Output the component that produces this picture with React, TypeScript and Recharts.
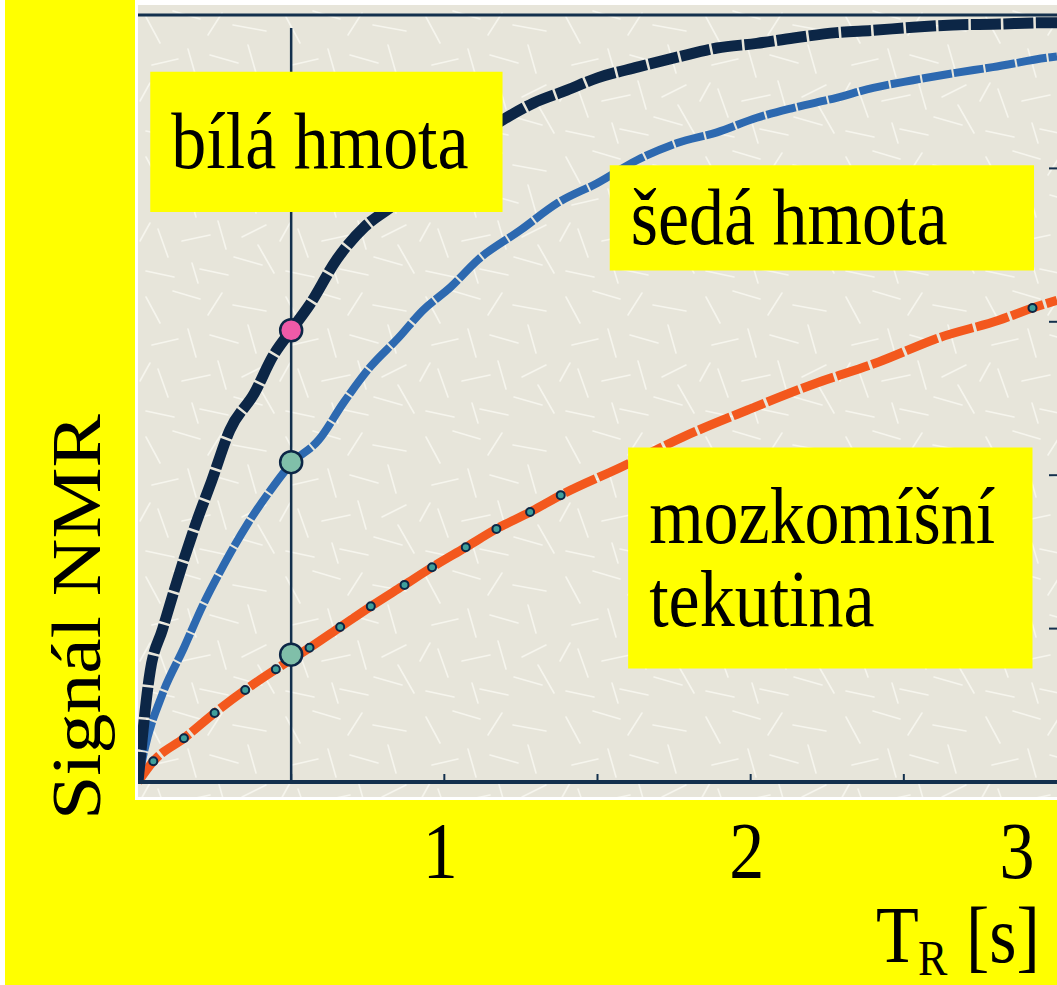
import React from 'react';
import {
  ComposedChart,
  Line,
  XAxis,
  YAxis,
  ReferenceLine,
  ReferenceArea,
  ReferenceDot,
} from 'recharts';

// ---------------- data ----------------
const WM_TR = [0, 0.04, 0.08, 0.14, 0.19, 0.24, 0.3, 0.38, 0.44, 0.5, 0.56, 0.65, 0.74, 0.82, 1.19, 1.29, 1.4, 1.5, 1.63, 1.76, 1.89, 2.02, 2.14, 2.28, 2.4, 2.53, 2.66, 2.79, 2.98, 3.0];
const WM_SIG = [0, 0.145, 0.199, 0.278, 0.338, 0.392, 0.459, 0.507, 0.555, 0.589, 0.622, 0.682, 0.724, 0.748, 0.863, 0.885, 0.902, 0.918, 0.932, 0.945, 0.957, 0.963, 0.97, 0.977, 0.98, 0.984, 0.987, 0.988, 0.99, 0.99];

const GM_TR = [0, 0.02, 0.08, 0.15, 0.21, 0.28, 0.36, 0.43, 0.5, 0.59, 0.67, 0.76, 0.85, 0.93, 1.02, 1.11, 1.25, 1.37, 1.5, 1.63, 1.76, 1.89, 2.02, 2.14, 2.28, 2.4, 2.53, 2.66, 2.79, 2.98, 3.0];
const GM_SIG = [0, 0.04, 0.115, 0.175, 0.229, 0.283, 0.338, 0.379, 0.415, 0.446, 0.494, 0.542, 0.579, 0.615, 0.645, 0.681, 0.72, 0.755, 0.781, 0.811, 0.833, 0.847, 0.866, 0.879, 0.892, 0.905, 0.915, 0.924, 0.932, 0.945, 0.946];

const CSF_TR = [0, 0.05, 0.15, 0.25, 0.35, 0.45, 0.56, 0.66, 0.76, 0.87, 0.96, 1.07, 1.17, 1.28, 1.38, 1.58, 1.78, 1.99, 2.2, 2.42, 2.62, 2.81, 2.92, 3.0];
const CSF_SIG = [0, 0.027, 0.057, 0.09, 0.12, 0.147, 0.175, 0.202, 0.229, 0.257, 0.28, 0.306, 0.33, 0.352, 0.374, 0.411, 0.45, 0.485, 0.518, 0.548, 0.58, 0.602, 0.618, 0.628];
const CSF_MARKER_IDX = [1, 2, 3, 4, 5, 6, 7, 8, 9, 10, 11, 12, 13, 14, 22];

const PROBE_TR = 0.5;
const PROBE_SIG = [0.589, 0.417, 0.166];

const X_TICKS = [0.5, 1, 1.5, 2, 2.5, 3];
const X_LABELS = [1, 2, 3];
const Y_TICKS = [0.2, 0.4, 0.6, 0.8];

const Y_TITLE = 'Signál NMR';
const X_TITLE_MAIN = 'T';
const X_TITLE_SUB = 'R';
const X_TITLE_UNIT = '[s]';

const BOX_LINES = [['bílá hmota'], ['šedá hmota'], ['mozkomíšní', 'tekutina']];
const BOX_TR = [[0.04, 1.19], [1.54, 2.925], [1.6, 2.92]];
const BOX_SIG = [[0.743, 0.926], [0.667, 0.804], [0.148, 0.436]];

// ---------------- style ----------------
const W = 1057;
const H = 985;
const FONT = '"Liberation Serif", "Times New Roman", serif';
const VSTRETCH = 1.14;
const NAVY = '#0c2646';
const AXIS = '#13304d';
const BLUE = '#2d69b0';
const ORANGE = '#f3581d';
const PINK = '#ee5aa8';
const TEAL = '#80bfa9';
const YELLOW = '#ffff00';
const PANEL = '#e7e5da';
const TS = 70;

const TILE_SVG =
  "<svg xmlns='http://www.w3.org/2000/svg' width='140' height='140'>" +
  "<g stroke='#fbfaf4' stroke-width='1.6' stroke-linecap='round' opacity='0.75' fill='none'>" +
  "<path d='M8 12 L22 38 M35 6 L62 14 M70 30 L84 8 M95 20 L128 26 M110 40 L118 68 M14 60 L40 54 M50 44 L58 72 M72 50 L100 58 M128 80 L104 92 M20 84 L30 112 M44 96 L72 90 M80 76 L88 104 M96 112 L124 120 M8 126 L36 132 M54 118 L60 138 M120 100 L136 128 M2 96 L12 78 M62 124 L90 130'/>" +
  '</g></svg>';
const TEXTURE = `url("data:image/svg+xml;utf8,${encodeURIComponent(TILE_SVG)}")`;

const rows = (xs: number[], ys: number[]) => xs.map((t, i) => ({ tr: t, sig: ys[i], idx: i }));
const wmRows = rows(WM_TR, WM_SIG);
const gmRows = rows(GM_TR, GM_SIG);
const csfRows = rows(CSF_TR, CSF_SIG);
const PROBE_FILLS = [PINK, TEAL, TEAL];

function SText({ x, y, size = TS, anchor = 'start', children }: any) {
  return (
    <text
      transform={`translate(${x},${y}) scale(1,${VSTRETCH})`}
      fontFamily={FONT}
      fontSize={size}
      fill="#000"
      textAnchor={anchor}
    >
      {children}
    </text>
  );
}

// bottom axis tick: short inward mark + large label for whole seconds
function BottomTick(props: any) {
  const { x, y, payload } = props;
  const v = payload?.value;
  const isLabel = X_LABELS.includes(v);
  const cx = Math.min(x - 4, W - 40);
  return (
    <g>
      {v < 3 && <line x1={x} y1={y} x2={x} y2={y - 8} stroke={AXIS} strokeWidth={2} />}
      {isLabel && (
        <SText x={cx} y={y + 96} anchor="middle">
          {v}
        </SText>
      )}
    </g>
  );
}

// top axis tick: short inward mark only
function TopTick(props: any) {
  const { x, y, payload } = props;
  if (payload?.value >= 3) return <g />;
  return <line x1={x} y1={y} x2={x} y2={y + 6} stroke={AXIS} strokeWidth={2} />;
}

const renderXTitle = (p: any) => {
  const vb = p.viewBox || p;
  const right = vb.x + vb.width;
  const base = vb.y + 180;
  return (
    <g>
      <SText x={right - 181} y={base}>{X_TITLE_MAIN}</SText>
      <SText x={right - 139} y={base + 13} size={44}>{X_TITLE_SUB}</SText>
      <SText x={right - 91} y={base}>{X_TITLE_UNIT}</SText>
    </g>
  );
};

const renderYTitle = (p: any) => {
  const vb = p.viewBox || p;
  const by = vb.y + vb.height + 38;
  return (
    <text
      transform={`translate(100,${by}) scale(1,${VSTRETCH}) rotate(-90)`}
      fontFamily={FONT}
      fontSize={TS}
      fill="#000"
      textAnchor="start"
    >
      {Y_TITLE}
    </text>
  );
};

const makeBoxLabel = (lines: string[]) => (p: any) => {
  const vb = p.viewBox || p;
  const cy = vb.y + vb.height / 2;
  const n = lines.length;
  return (
    <g>
      {lines.map((l, i) => (
        <SText key={i} x={vb.x + 21} y={cy + 26 + (i - (n - 1) / 2) * 83}>
          {l}
        </SText>
      ))}
    </g>
  );
};

const csfDot = (p: any) => {
  const marked = CSF_MARKER_IDX.includes(p.payload?.idx);
  if (!marked || p.cx == null) return <g key={`cd${p.index}`} />;
  return (
    <circle
      key={`cd${p.index}`}
      cx={p.cx}
      cy={p.cy}
      r={4}
      fill="#3f9f9b"
      stroke={NAVY}
      strokeWidth={2}
    />
  );
};

export default function App() {
  return (
    <div
      style={{
        position: 'absolute',
        left: 0,
        top: 0,
        width: W,
        height: H,
        background: YELLOW,
        overflow: 'hidden',
      }}
    >
      <div style={{ position: 'absolute', left: 0, top: 0, width: 5, height: H, background: '#fff' }} />
      <div style={{ position: 'absolute', left: 135, top: 0, width: W - 135, height: 800, background: '#fff' }} />
      <div
        style={{
          position: 'absolute',
          left: 138,
          top: 5,
          width: W - 138,
          height: 792,
          backgroundColor: PANEL,
          backgroundImage: TEXTURE,
        }}
      />
      <div style={{ position: 'absolute', left: 0, top: 0 }}>
        <ComposedChart width={W} height={H} margin={{ top: 14, right: 0, bottom: 0, left: 138 }}>
          <XAxis
            xAxisId="x"
            type="number"
            dataKey="tr"
            domain={[0, 3]}
            ticks={X_TICKS}
            interval={0}
            orientation="bottom"
            height={203}
            axisLine={{ stroke: AXIS, strokeWidth: 4 }}
            tickLine={false}
            tickSize={0}
            tickMargin={0}
            tick={<BottomTick />}
            label={renderXTitle}
            allowDataOverflow
          />
          <XAxis
            xAxisId="top"
            type="number"
            dataKey="tr"
            domain={[0, 3]}
            ticks={X_TICKS}
            interval={0}
            orientation="top"
            height={1}
            axisLine={{ stroke: AXIS, strokeWidth: 3 }}
            tickLine={false}
            tickSize={0}
            tickMargin={0}
            tick={<TopTick />}
          />
          <YAxis
            yAxisId="y"
            type="number"
            domain={[0, 1]}
            ticks={Y_TICKS}
            interval={0}
            orientation="right"
            mirror
            width={1}
            axisLine={false}
            tickLine={{ stroke: AXIS, strokeWidth: 2 }}
            tickSize={8}
            tickFormatter={() => ''}
            label={renderYTitle}
          />

          <ReferenceLine
            xAxisId="x"
            yAxisId="y"
            segment={[{ x: PROBE_TR, y: 0.983 }, { x: PROBE_TR, y: 0 }]}
            stroke={AXIS}
            strokeWidth={2.5}
          />

          <Line
            xAxisId="x"
            yAxisId="y"
            data={csfRows}
            dataKey="sig"
            type="monotone"
            stroke={ORANGE}
            strokeWidth={9}
            strokeDasharray="34 3"
            dot={csfDot}
            activeDot={false}
            isAnimationActive={false}
          />
          <Line
            xAxisId="x"
            yAxisId="y"
            data={gmRows}
            dataKey="sig"
            type="monotone"
            stroke={BLUE}
            strokeWidth={8}
            strokeDasharray="30 2"
            dot={false}
            activeDot={false}
            isAnimationActive={false}
          />
          <Line
            xAxisId="x"
            yAxisId="y"
            data={wmRows}
            dataKey="sig"
            type="monotone"
            stroke={NAVY}
            strokeWidth={11}
            strokeDasharray="30 2.5"
            dot={false}
            activeDot={false}
            isAnimationActive={false}
          />

          {PROBE_SIG.map((v, i) => (
            <ReferenceDot
              key={`p${i}`}
              xAxisId="x"
              yAxisId="y"
              x={PROBE_TR}
              y={v}
              r={11}
              fill={PROBE_FILLS[i]}
              stroke={NAVY}
              strokeWidth={2.5}
            />
          ))}

          {BOX_LINES.map((lines, i) => (
            <ReferenceArea
              key={`b${i}`}
              xAxisId="x"
              yAxisId="y"
              x1={BOX_TR[i][0]}
              x2={BOX_TR[i][1]}
              y1={BOX_SIG[i][0]}
              y2={BOX_SIG[i][1]}
              fill={YELLOW}
              fillOpacity={1}
              stroke="none"
              ifOverflow="visible"
              zIndex={1500}
              label={makeBoxLabel(lines)}
            />
          ))}
        </ComposedChart>
      </div>
    </div>
  );
}
